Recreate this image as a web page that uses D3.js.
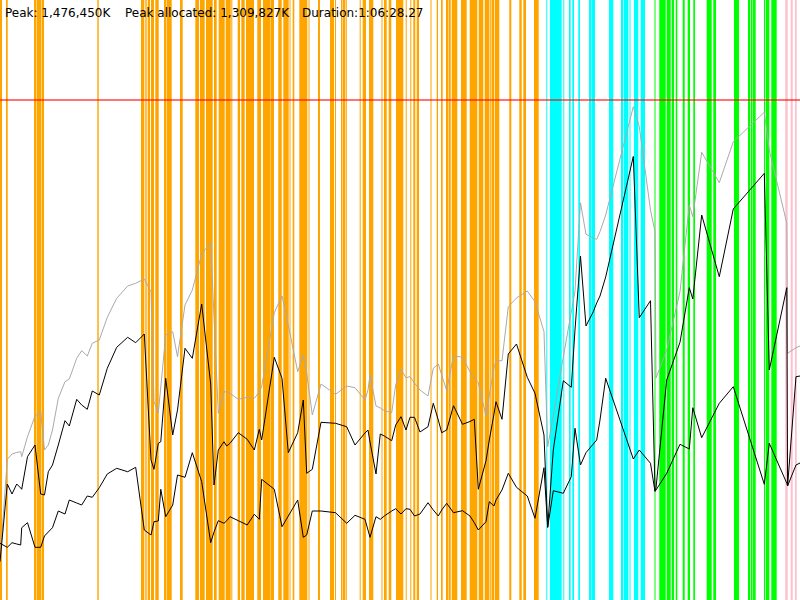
<!DOCTYPE html>
<html>
<head>
<meta charset="utf-8">
<script src="https://cdn.jsdelivr.net/npm/d3@7"></script>
<style>
  html, body { margin: 0; padding: 0; background: #fff; }
  svg { display: block; }
</style>
</head>
<body>
<div id="chart"></div>
<script>
// ---- Summary values ----
const peakK = 1476450;
const peakAllocatedK = 1309827;
const durationSec = 3988.27;

// ---- Sample times (seconds) ----
const sampleTimes = [0, 36.4, 59.8, 83.3, 103.2, 108.2, 137.1, 174.5, 202.9, 221.8, 240.8, 261.7, 290.6, 324.0, 345.5, 382.4, 407.3, 435.2, 460.1, 495.0, 534.9, 581.8, 636.6, 676.5, 719.4, 752.8, 767.7, 789.2, 801.6, 826.1, 861.0, 884.9, 922.3, 958.7, 1005.5, 1050.4, 1066.9, 1088.3, 1116.7, 1130.2, 1146.6, 1188.0, 1232.4, 1267.8, 1292.7, 1304.6, 1367.5, 1405.9, 1437.3, 1484.1, 1512.0, 1529.0, 1556.9, 1600.3, 1672.6, 1728.4, 1769.8, 1819.6, 1834.6, 1844.6, 1874.5, 1895.9, 1915.9, 1952.7, 1972.7, 1999.1, 2024.0, 2044.0, 2066.4, 2093.8, 2133.7, 2160.1, 2185.0, 2202.0, 2226.9, 2260.8, 2305.8, 2343.1, 2364.6, 2384.5, 2422.9, 2439.4, 2462.7, 2472.7, 2502.6, 2534.0, 2574.9, 2628.7, 2667.1, 2712.0, 2730.4, 2758.4, 2808.2, 2848.1, 2866.5, 2893.9, 2921.4, 2957.8, 2974.7, 2991.2, 3019.6, 3157.2, 3187.1, 3242.9, 3265.4, 3270.4, 3323.7, 3390.0, 3436.4, 3453.8, 3498.2, 3585.9, 3655.7, 3810.3, 3835.2, 3922.5, 3926.4, 3968.3, 3988.27];

// ---- Total memory (K) - grey line ----
const totalK = [113100, 415500, 431100, 435600, 437900, 423200, 482200, 543300, 556000, 442900, 457700, 502000, 595600, 644600, 652600, 713700, 736200, 720500, 758000, 767800, 834800, 890900, 927200, 935200, 947900, 910400, 585600, 553100, 629000, 782500, 792300, 718400, 871100, 915400, 1021700, 1055100, 835700, 551300, 615100, 614200, 610400, 592600, 598500, 595600, 614200, 629900, 848400, 897700, 812000, 674100, 723500, 670300, 546300, 637800, 607400, 631900, 626900, 590600, 620100, 664400, 572900, 567000, 559000, 553100, 634900, 681200, 656400, 659400, 640800, 620100, 602400, 684200, 696900, 664400, 618000, 721400, 716700, 674100, 655500, 641700, 543300, 605300, 685100, 706600, 706600, 866100, 891800, 912400, 880900, 792300, 452700, 543300, 717500, 850400, 912400, 1173200, 1079900, 1068900, 1065100, 1087500, 1136900, 1456700, 1397600, 1151600, 1087500, 655500, 738200, 910400, 1166400, 1131800, 1322000, 1232200, 1353300, 1440100, 1328800, 1112400, 728500, 745000, 750000];

// ---- Allocated memory (K) - upper black line ----
const allocatedK = [113100, 342500, 313000, 342500, 330700, 326900, 423200, 457700, 313000, 310100, 378800, 398600, 457700, 529500, 513800, 592600, 575800, 563100, 617200, 605300, 684200, 746200, 775700, 759800, 785500, 413400, 385900, 462700, 467400, 654700, 487200, 561100, 743200, 713700, 874000, 637800, 339600, 442900, 467400, 454700, 462700, 494000, 474500, 442900, 504100, 472500, 716700, 654700, 435000, 494000, 590600, 374100, 385900, 524700, 521800, 511700, 457700, 493100, 502000, 466600, 372100, 490200, 484300, 470400, 516800, 541300, 502000, 539500, 539500, 496100, 511700, 580800, 531500, 494000, 502000, 573700, 518800, 527100, 533600, 326900, 411300, 472500, 549200, 585600, 533600, 726400, 755900, 657600, 610400, 487200, 214700, 442900, 647600, 628100, 797300, 1015800, 809100, 851300, 877000, 897700, 953800, 1309827, 833600, 883800, 321900, 330700, 649600, 761000, 922200, 888800, 1136900, 954700, 1154600, 1260000, 679200, 922200, 336600, 659400, 661400];

// ---- Live / retained memory (K) - lower black line ----
const liveK = [167400, 155600, 169200, 165400, 162400, 213500, 228300, 155600, 155600, 189000, 200800, 213500, 262800, 253900, 295300, 286400, 280500, 307100, 303300, 331600, 372100, 388900, 378800, 391900, 206700, 191900, 231200, 233300, 326900, 246000, 280500, 369100, 362300, 435000, 349300, 169200, 200800, 234200, 226500, 234200, 246000, 234200, 221500, 253100, 238300, 356400, 326900, 216400, 248000, 295300, 185100, 191900, 262800, 262800, 257800, 226500, 250100, 238300, 206700, 185100, 246000, 238300, 248000, 262800, 269600, 253900, 269600, 267800, 248000, 253900, 287300, 265800, 248000, 265800, 285500, 257800, 263700, 248000, 228300, 206700, 231200, 290300, 277600, 295300, 324800, 374100, 332800, 307100, 241300, 390700, 214700, 322700, 315100, 364100, 507000, 398600, 435000, 460700, 472500, 531500, 654700, 416400, 442900, 403700, 320400, 324800, 374100, 459800, 445900, 567800, 479300, 580800, 629900, 341600, 462700, 344600, 336600, 398600, 404500];

// ---- Event bands (start, end seconds) ----
const orangeStart = [0, 29.9, 169.5, 184.5, 209.4, 485.1, 702.9, 724.4, 736.3, 752.8, 774.2, 817.6, 830.1, 897.4, 972.1, 977.1, 997.1, 1027.0, 1066.9, 1090.3, 1118.2, 1126.7, 1153.1, 1185.0, 1203.0, 1226.4, 1282.7, 1311.1, 1350.0, 1387.4, 1412.4, 1443.3, 1459.2, 1492.1, 1538.0, 1585.3, 1645.2, 1670.1, 1700.0, 1710.0, 1723.9, 1793.2, 1808.2, 1839.6, 1901.9, 1914.4, 1937.8, 1974.2, 2022.5, 2045.5, 2060.4, 2077.4, 2146.2, 2177.1, 2198.5, 2223.5, 2235.9, 2251.9, 2298.2, 2341.6, 2386.5, 2416.4, 2441.8, 2450.3, 2466.3, 2539.0, 2588.9, 2608.8, 2662.2];
const orangeEnd   = [10.0, 38.4, 182.0, 206.9, 219.4, 492.1, 719.4, 731.3, 747.8, 767.7, 791.2, 827.6, 856.0, 910.8, 975.6, 992.1, 1020.5, 1060.4, 1080.3, 1116.7, 1123.2, 1150.1, 1158.1, 1196.5, 1219.9, 1266.3, 1301.2, 1348.5, 1366.0, 1404.4, 1439.3, 1448.2, 1467.2, 1532.0, 1542.9, 1595.3, 1665.1, 1675.1, 1707.5, 1721.4, 1728.9, 1798.2, 1824.6, 1861.0, 1906.9, 1927.8, 1950.8, 2010.6, 2027.5, 2050.5, 2070.4, 2088.9, 2151.2, 2183.6, 2207.0, 2233.4, 2246.9, 2279.8, 2326.7, 2379.5, 2409.4, 2439.3, 2446.8, 2462.8, 2489.2, 2549.0, 2600.8, 2622.3, 2685.6];
const cyanStart = [2723.5, 2741.9, 2808.2, 2836.7, 2853.1, 2883.0, 2936.4, 2950.3, 3036.1, 3095.9, 3110.8, 3138.3, 3160.7, 3194.1];
const cyanEnd   = [2728.5, 2800.2, 2813.2, 2845.1, 2861.6, 2891.5, 2948.8, 2966.3, 3057.5, 3107.4, 3132.3, 3143.3, 3182.2, 3215.5];
const greenStart = [3262.9, 3286.8, 3323.7, 3348.6, 3368.6, 3403.5, 3428.4, 3456.4, 3523.2, 3556.0, 3659.2, 3729.0, 3742.5, 3754.0, 3808.8, 3818.8, 3845.2];
const greenEnd   = [3267.9, 3318.7, 3343.6, 3360.1, 3376.6, 3413.5, 3439.9, 3464.8, 3548.1, 3569.5, 3684.2, 3739.0, 3751.5, 3767.4, 3815.3, 3835.2, 3872.1];
const pinkStart = [3915.0, 3941.9, 3963.3];
const pinkEnd   = [3926.9, 3951.9, 3971.8];

// ---- Build ----
const W = 800, H = 600;
const svg = d3.select("#chart").append("svg").attr("width", W).attr("height", H);

const x = d3.scaleLinear().domain([0, durationSec]).range([0, W]);
const y = d3.scaleLinear().domain([0, peakK]).range([H, 100]);

function bands(starts, ends, color) {
  const data = starts.map((s, i) => ({ s, e: ends[i] }));
  svg.append("g").selectAll("rect").data(data).join("rect")
    .attr("x", d => x(d.s))
    .attr("width", d => Math.max(0.5, x(d.e) - x(d.s)))
    .attr("y", 0)
    .attr("height", H)
    .attr("fill", color);
}
bands(orangeStart, orangeEnd, "#FFA500");
bands(cyanStart, cyanEnd, "#00FFFF");
bands(greenStart, greenEnd, "#00FF00");
bands(pinkStart, pinkEnd, "#FFC0CB");

// peak line
svg.append("line")
  .attr("x1", 0).attr("x2", W)
  .attr("y1", y(peakK)).attr("y2", y(peakK))
  .attr("stroke", "#ff0000").attr("stroke-opacity", 0.55).attr("stroke-width", 2);

function series(vals, color) {
  const pts = sampleTimes.map((t, i) => [t, vals[i]]);
  svg.append("path")
    .datum(pts)
    .attr("fill", "none")
    .attr("stroke", color)
    .attr("stroke-width", 1)
    .attr("stroke-linejoin", "miter")
    .attr("d", d3.line().x(d => x(d[0])).y(d => y(d[1])));
}
series(totalK, "#aaaaaa");
series(liveK, "#000000");
series(allocatedK, "#000000");

// header text
const fmt = d3.format(",");
function fmtDur(s) {
  const h = Math.floor(s / 3600);
  const m = Math.floor((s % 3600) / 60);
  const sec = s - h * 3600 - m * 60;
  return h + ":" + String(m).padStart(2, "0") + ":" + sec.toFixed(2).padStart(5, "0");
}
const header = [
  { x: 5, text: "Peak: " + fmt(peakK) + "K" },
  { x: 125, text: "Peak allocated: " + fmt(peakAllocatedK) + "K" },
  { x: 302, text: "Duration:" + fmtDur(durationSec) }
];
svg.append("g").selectAll("text").data(header).join("text")
  .attr("x", d => d.x).attr("y", 17)
  .attr("font-family", "'DejaVu Sans', Verdana, sans-serif")
  .attr("font-size", 12)
  .attr("fill", "#000")
  .text(d => d.text);
</script>
</body>
</html>
